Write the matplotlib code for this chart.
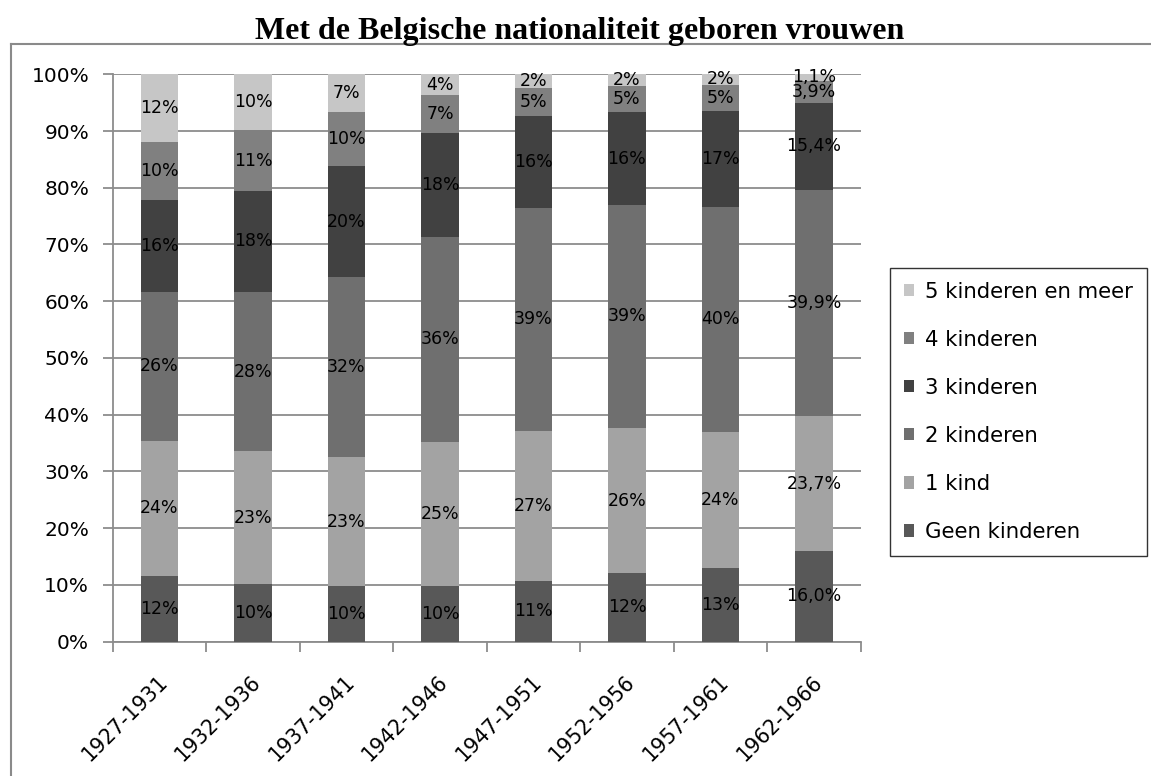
import matplotlib
matplotlib.use("Agg")
import matplotlib.pyplot as plt
import matplotlib.transforms as mtransforms
import numpy as np

categories = ["1927-1931", "1932-1936", "1937-1941", "1942-1946",
              "1947-1951", "1952-1956", "1957-1961", "1962-1966"]

geen = [11.5, 10.2, 9.7, 9.7, 10.6, 12.0, 13.0, 16.0]
een_kind = [23.9, 23.3, 22.9, 25.4, 26.6, 25.7, 24.0, 23.7]
twee = [26.2, 28.1, 31.6, 36.3, 39.3, 39.3, 39.6, 39.9]
drie = [16.2, 17.9, 19.6, 18.3, 16.1, 16.3, 16.9, 15.4]
vier = [10.2, 10.6, 9.5, 6.6, 4.9, 4.7, 4.7, 3.9]
vijf = [12.0, 9.9, 6.7, 3.7, 2.5, 2.0, 1.8, 1.1]

series_names = ["Geen kinderen", "1 kind", "2 kinderen", "3 kinderen",
                "4 kinderen", "5 kinderen en meer"]
label_decimals = [0, 0, 0, 0, 0, 0, 0, 1]

title = "Met de Belgische nationaliteit geboren vrouwen"

series = [geen, een_kind, twee, drie, vier, vijf]
colors = ["#585858", "#a3a3a3", "#6f6f6f", "#414141", "#808080", "#c6c6c6"]

W, H = 1151, 776
fig = plt.figure(figsize=(W / 100, H / 100), dpi=100)
plt.rcParams['font.family'] = ['DejaVu Sans']

left_px, right_px = 112.7, 860.7
bot_px, top_px = 641.5, 74.3
ax = fig.add_axes([left_px / W, 1 - bot_px / H, (right_px - left_px) / W, (bot_px - top_px) / H])

x = np.arange(len(categories))
bottom = np.zeros(len(categories))
handles = []
for vals, col, name in zip(series, colors, series_names):
    vals = np.array(vals)
    bars = ax.bar(x, vals / 100.0, width=0.40, bottom=bottom / 100.0, color=col,
                  label=name, zorder=3, linewidth=0)
    handles.append(bars)
    for i, v in enumerate(vals):
        d = label_decimals[i]
        if d == 0:
            txt = f"{int(round(v))}%"
        else:
            txt = f"{v:.{d}f}%".replace(".", ",")
        ax.text(x[i], (bottom[i] + v / 2) / 100.0, txt, ha="center", va="center",
                fontsize=12.5, color="black", zorder=5)
    bottom += vals

ax.set_xlim(-0.5, len(categories) - 0.5)
ax.set_ylim(0, 1)
yt = np.arange(0, 1.01, 0.1)
ax.set_yticks(yt)
ax.set_yticklabels([f"{int(round(t * 100))}%" for t in yt], fontsize=14.5)
ax.yaxis.grid(True, color="#8c8c8c", linewidth=1.3, zorder=0)
ax.tick_params(axis="y", length=7, width=1.3, color="#8c8c8c", pad=10)

# x ticks at category boundaries
ax.set_xticks(np.arange(-0.5, len(categories), 1.0))
ax.set_xticklabels([])
ax.tick_params(axis="x", length=7, width=1.3, color="#8c8c8c", direction="out")

for s in ["top", "right"]:
    ax.spines[s].set_visible(False)
for s in ["left", "bottom"]:
    ax.spines[s].set_color("#8c8c8c")
    ax.spines[s].set_linewidth(1.3)

# rotated category labels
base = mtransforms.blended_transform_factory(ax.transData, ax.transAxes)
off = mtransforms.ScaledTranslation(5 / 100, -37 / 100, fig.dpi_scale_trans)
for i, c in enumerate(categories):
    ax.text(x[i], 0, c, transform=base + off, rotation=45, ha="right", va="center",
            rotation_mode="anchor", fontsize=14.8)

# legend
leg = fig.legend(handles=handles[::-1], labels=series_names[::-1], loc="upper left",
                 bbox_to_anchor=(890 / W, 1 - 268 / H), borderaxespad=0,
                 fontsize=15.3, frameon=True, fancybox=False, edgecolor="black",
                 handlelength=0.5, handleheight=0.5, handletextpad=0.52,
                 borderpad=0.65, labelspacing=1.32)
leg.get_frame().set_linewidth(1.0)

# title
fig.text(580 / W, 1 - 31 / H, title, ha="center", va="center",
         fontsize=23, fontweight="bold", family="Liberation Serif")

# chart outer border (top and left visible)
fig.add_artist(plt.Line2D([11 / W, 1.0], [1 - 44 / H, 1 - 44 / H], color="#8a8a8a",
                          linewidth=1.5, transform=fig.transFigure))
fig.add_artist(plt.Line2D([11 / W, 11 / W], [0.0, 1 - 44 / H], color="#8a8a8a",
                          linewidth=1.5, transform=fig.transFigure))

fig.savefig("out.png", dpi=100)
